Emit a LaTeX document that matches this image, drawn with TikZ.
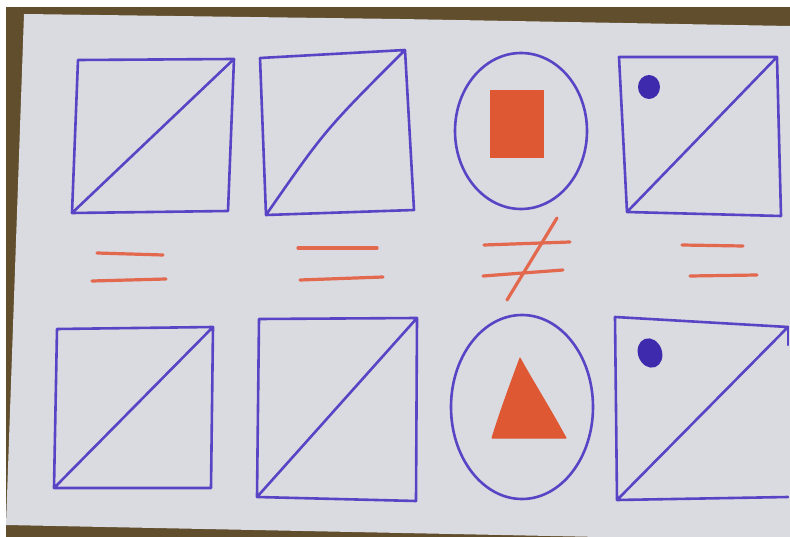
\documentclass[tikz,border=0pt]{standalone}
\begin{document}
\begin{tikzpicture}[x=1pt,y=-1pt,
  pen/.style={draw=penblue,line width=2.6pt,line join=round,line cap=round},
  redpen/.style={draw=penred,line width=3.2pt,line cap=round},
  redfill/.style={fill=fillred,draw=fillred,line width=1pt,line join=round},
  dotfill/.style={fill=dotblue}]
\definecolor{penblue}{RGB}{88,68,196}
\definecolor{dotblue}{RGB}{62,42,172}
\definecolor{penred}{RGB}{226,104,78}
\definecolor{fillred}{RGB}{222,88,52}
\definecolor{paper}{RGB}{218,218,225}
\definecolor{desk}{RGB}{96,78,44}
\useasboundingbox (0,0) rectangle (790,537);
% background: white margin, desk, paper
\fill[white] (0,0) rectangle (790,537);
\fill[desk] (6,7) rectangle (790,537);
\fill[paper] (24,14) -- (400,19) -- (790,26) -- (790,537) -- (600,537) -- (6,525) -- cycle;
% top row
\coordinate (a1) at (78,60); \coordinate (b1) at (234,59);
\coordinate (c1) at (228,211); \coordinate (d1) at (72,213);
\draw[pen] (a1) -- (b1) -- (c1) -- (d1) -- cycle (d1) -- (b1);
\coordinate (a2) at (260,58); \coordinate (b2) at (405,50);
\coordinate (c2) at (414,210); \coordinate (d2) at (266,215);
\draw[pen] (a2) -- (b2) -- (c2) -- (d2) -- cycle (d2) .. controls (325,130) .. (b2);
\coordinate (o1) at (521,131);
\draw[pen] (o1) ellipse [x radius=66, y radius=78];
\fill[redfill] (490,91) rectangle (543,158);
\coordinate (a4) at (619,57); \coordinate (b4) at (777,57);
\coordinate (c4) at (781,216); \coordinate (d4) at (627,212);
\draw[pen] (a4) -- (b4) -- (c4) -- (d4) -- cycle (d4) -- (b4);
\fill[dotfill] (649,87) ellipse [x radius=11, y radius=12];
% relation signs
\draw[redpen] (97,253) -- (163,255);
\draw[redpen] (92,281) -- (166,279);
\draw[redpen] (298,248) -- (377,248);
\draw[redpen] (300,280) -- (383,277);
\draw[redpen] (484,245) -- (570,242);
\draw[redpen] (483,276) -- (563,270);
\draw[redpen] (557,218) -- (507,300);
\draw[redpen] (682,245) -- (743,246);
\draw[redpen] (690,276) -- (757,275);
% bottom row
\coordinate (e1) at (57,329); \coordinate (f1) at (213,327);
\coordinate (g1) at (211,488); \coordinate (h1) at (54,488);
\draw[pen] (e1) -- (f1) -- (g1) -- (h1) -- cycle (h1) -- (f1);
\coordinate (e2) at (259,319); \coordinate (f2) at (417,318);
\coordinate (g2) at (416,501); \coordinate (h2) at (257,497);
\draw[pen] (e2) -- (f2) -- (g2) -- (h2) -- cycle (h2) -- (f2);
\coordinate (o2) at (522,407);
\draw[pen] (o2) ellipse [x radius=71, y radius=92];
\fill[redfill] (520,358) .. controls (510,385) and (500,412) .. (492,438) -- (566,438) .. controls (548,405) and (532,380) .. cycle;
\coordinate (e4) at (615,317); \coordinate (f4) at (788,327);
\coordinate (g4) at (788,497); \coordinate (h4) at (617,500);
\draw[pen] (f4) -- (e4) -- (h4) -- (g4) (h4) -- (f4);
\draw[pen] (788,327) -- (788,345);
\fill[dotfill,rotate around={20:(650,353)}] (650,353) ellipse [x radius=12, y radius=15];
\end{tikzpicture}
\end{document}
